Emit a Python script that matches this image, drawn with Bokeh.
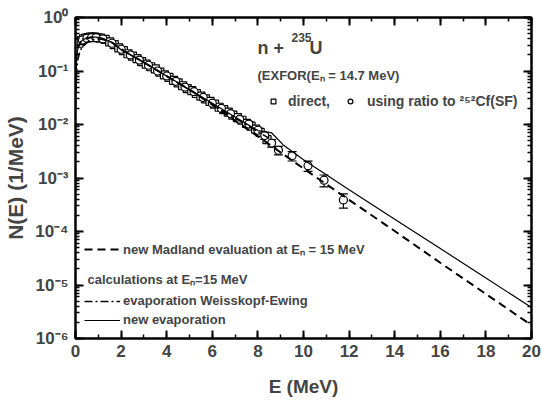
import numpy as np
from bokeh.plotting import figure
from bokeh.models import (ColumnDataSource, LinearAxis, LogAxis, Range1d, Label,
                          Legend, LegendItem, Whisker, FixedTicker, TeeHead, CustomJSTickFormatter)
from bokeh.embed import file_html
from bokeh.resources import INLINE

# ---------------- data ----------------
direct_E = [0.15, 0.25, 0.35, 0.45, 0.55, 0.65, 0.75, 0.85, 0.95, 1.1, 1.3, 1.5, 1.7, 1.9,
            2.1, 2.3, 2.5, 2.7, 2.9, 3.1, 3.3, 3.5, 3.7, 3.9, 4.1, 4.3, 4.5, 4.7, 4.9,
            5.1, 5.3, 5.5, 5.7, 5.9, 6.1, 6.3, 6.5, 6.7, 6.9, 7.1, 7.3, 7.5, 7.7, 7.9, 8.1, 8.4]
direct_N = [0.33, 0.37, 0.40, 0.41, 0.42, 0.43, 0.43, 0.43, 0.42, 0.41, 0.39, 0.35, 0.31, 0.27,
            0.24, 0.21, 0.19, 0.17, 0.15, 0.135, 0.12, 0.11, 0.095, 0.085, 0.076, 0.067, 0.060, 0.053, 0.047,
            0.043, 0.038, 0.034, 0.030, 0.027, 0.024, 0.021, 0.019, 0.017, 0.015, 0.0135, 0.012, 0.0105,
            0.0093, 0.0082, 0.0071, 0.0052]

ratio_E = [0.3, 0.5, 0.7, 0.9, 1.2, 1.6, 2.0, 2.4, 2.8, 3.2, 3.6, 4.0, 4.4, 4.8, 5.2, 5.6, 6.0,
           6.4, 6.8, 7.2, 7.6, 8.0, 8.3, 8.6, 8.9, 9.5, 10.2, 10.9, 11.75]
ratio_N = [0.38, 0.41, 0.42, 0.42, 0.40, 0.33, 0.255, 0.20, 0.16, 0.128, 0.10, 0.081, 0.064, 0.050,
           0.041, 0.032, 0.025, 0.020, 0.016, 0.0125, 0.0102, 0.0078, 0.0062, 0.0045, 0.0033, 0.0026,
           0.0017, 0.00091, 0.00039]
ratio_relerr = [0.03, 0.03, 0.03, 0.03, 0.03, 0.03, 0.03, 0.04, 0.04, 0.04, 0.05, 0.05, 0.05, 0.06,
                0.06, 0.07, 0.07, 0.08, 0.09, 0.10, 0.12, 0.14, 0.15, 0.16, 0.18, 0.20, 0.22, 0.25, 0.30]

evap_E = [0.005, 0.02, 0.05, 0.1, 0.2, 0.35, 0.5, 0.7, 0.9, 1.2, 1.6, 2.0, 2.5, 3.0, 4.0, 5.0, 6.0,
          7.0, 8.0, 8.6, 9.1, 10, 12, 14, 16, 18, 20]
evap_N = [0.04, 0.10, 0.18, 0.26, 0.34, 0.39, 0.415, 0.43, 0.43, 0.40, 0.34, 0.25, 0.19, 0.145, 0.081,
          0.045, 0.025, 0.0138, 0.0077, 0.0070, 0.0042, 0.0022, 6.0e-4, 1.7e-4, 4.8e-5, 1.35e-5, 3.8e-6]

madland_E = [0.005, 0.02, 0.05, 0.1, 0.2, 0.35, 0.5, 0.7, 0.9, 1.2, 1.6, 2.0, 2.5, 3.0, 4.0, 5.0, 6.0,
             7.0, 8.0, 9.0, 10, 12, 14, 16, 18, 20]
madland_N = [0.05, 0.12, 0.20, 0.27, 0.34, 0.385, 0.41, 0.425, 0.425, 0.40, 0.34, 0.255, 0.19, 0.145,
             0.080, 0.045, 0.0235, 0.0118, 0.0060, 0.0030, 0.0015, 3.9e-4, 1.02e-4, 2.6e-5, 6.8e-6, 1.77e-6]

we_E = [0.005, 0.05, 0.1, 0.2, 0.3, 0.5, 0.7, 1.0, 1.3, 1.6, 2.0, 2.5, 3.0, 4.0, 5.0, 6.0, 7.0, 8.0, 8.5]
we_N = [0.02, 0.10, 0.16, 0.24, 0.28, 0.34, 0.38, 0.40, 0.38, 0.34, 0.26, 0.19, 0.145, 0.080, 0.044,
        0.024, 0.0132, 0.0073, 0.0055]

x_ticks = [0, 2, 4, 6, 8, 10, 12, 14, 16, 18, 20]
y_exponents = [0, -1, -2, -3, -4, -5, -6]

SANS = "Liberation Sans, Arial, sans-serif"

# ---------------- figure ----------------
p = figure(width=542, height=401, x_range=Range1d(0, 20), y_range=Range1d(1e-6, 1),
           y_axis_type="log", output_backend="svg", toolbar_location=None,
           min_border_left=75, min_border_right=11, min_border_top=17, min_border_bottom=63)
p.xgrid.visible = False
p.ygrid.visible = False
p.outline_line_color = "black"
p.outline_line_width = 2
p.background_fill_color = "white"
p.border_fill_color = "white"

xt = FixedTicker(ticks=x_ticks, minor_ticks=list(range(0, 21)))
yt = FixedTicker(ticks=[10.0 ** e for e in y_exponents],
                 minor_ticks=[m * 10.0 ** e for e in range(-6, 0) for m in range(1, 10)])
blank = CustomJSTickFormatter(code="return ''")
pow10 = CustomJSTickFormatter(code="""
const e = Math.round(Math.log10(tick));
const sup = {'-': '\u207b', '0': '\u2070', '1': '\u00b9', '2': '\u00b2', '3': '\u00b3',
             '4': '\u2074', '5': '\u2075', '6': '\u2076', '7': '\u2077', '8': '\u2078', '9': '\u2079'};
return '10' + String(e).split('').map(c => sup[c]).join('');
""")


def style_axis(ax, ticker):
    ax.ticker = ticker
    ax.axis_line_width = 2
    ax.major_tick_in = 8
    ax.major_tick_out = 0
    ax.minor_tick_in = 4
    ax.minor_tick_out = 0
    ax.major_tick_line_width = 2
    ax.minor_tick_line_width = 1.5


xa = p.xaxis[0]
style_axis(xa, xt)
xa.major_label_text_font = SANS
xa.major_label_text_font_size = "17px"
xa.major_label_text_font_style = "bold"
xa.major_label_standoff = 6
xa.axis_label = "E (MeV)"
xa.axis_label_text_font = SANS
xa.axis_label_text_font_size = "19px"
xa.axis_label_text_font_style = "bold"
xa.axis_label_standoff = 16

ya = p.yaxis[0]
style_axis(ya, yt)
ya.formatter = pow10
ya.major_label_text_font = SANS
ya.major_label_text_font_size = "17px"
ya.major_label_text_font_style = "bold"
ya.major_label_standoff = 7
ya.axis_label = "N(E) (1/MeV)"
ya.axis_label_text_font = SANS
ya.axis_label_text_font_size = "21px"
ya.axis_label_text_font_style = "bold"
ya.axis_label_standoff = 5

top = LinearAxis(formatter=blank, major_label_standoff=0)
style_axis(top, xt)
p.add_layout(top, "above")
right = LogAxis(formatter=blank, major_label_standoff=0)
style_axis(right, yt)
p.add_layout(right, "right")

# ---------------- data marks ----------------
src_d = ColumnDataSource(dict(x=direct_E, y=direct_N))
r_dir = p.scatter("x", "y", source=src_d, marker="square", size=8, fill_color="white",
                  line_color="black", line_width=1.2)

ratio_lo = [n * (1 - r) for n, r in zip(ratio_N, ratio_relerr)]
ratio_hi = [n * (1 + r) for n, r in zip(ratio_N, ratio_relerr)]
src_r = ColumnDataSource(dict(x=ratio_E, y=ratio_N, lo=ratio_lo, hi=ratio_hi))
p.add_layout(Whisker(source=src_r, base="x", upper="hi", lower="lo", dimension="height",
                     line_color="black", line_width=1.2,
                     upper_head=TeeHead(size=9, line_width=1.2), lower_head=TeeHead(size=9, line_width=1.2)))
r_rat = p.scatter("x", "y", source=src_r, marker="circle", size=8, fill_color="white",
                  line_color="black", line_width=1.2)

r_mad = p.line(madland_E, madland_N, line_color="black", line_width=2, line_dash="8 5")
r_we = p.line(we_E, we_N, line_color="black", line_width=1.5, line_dash="8 3 2 3")
r_ev = p.line(evap_E, evap_N, line_color="black", line_width=1.2)


# ---------------- texts and legends ----------------
def sx(px):
    return (px - 75) / 22.8


def sy(py):
    return 10 ** (-(py - 17) / 53.5)


def txt(px, py, s, size, align="left"):
    p.add_layout(Label(x=sx(px), y=sy(py), text=s, text_align=align, text_baseline="middle",
                       text_font=SANS, text_font_size=size, text_font_style="bold"))


# title block
txt(257, 47, "n +", "18px")
txt(291, 37, "235", "12px")
txt(309, 47, "U", "18px")
txt(257, 75, "(EXFOR(E\u2099 = 14.7 MeV)", "13px")

# calculations text
txt(87, 279, "calculations at E\u2099=15 MeV", "13px")


def mk_legend(items, loc, gw, standoff, size="13px"):
    lg = Legend(items=items, location=loc, orientation="vertical", border_line_alpha=0,
                background_fill_alpha=0, padding=0, margin=0, spacing=4,
                glyph_width=gw, glyph_height=14, label_height=14, label_standoff=standoff,
                label_text_font=SANS, label_text_font_size=size, label_text_font_style="bold",
                label_text_baseline="middle")
    p.add_layout(lg)
    return lg


mk_legend([LegendItem(label="direct,", renderers=[r_dir])], (192, 229), 12, 9, "14px")
mk_legend([LegendItem(label="using ratio to \u00b2\u2075\u00b2Cf(SF)", renderers=[r_rat])],
          (269, 229), 12, 11, "14px")
mk_legend([LegendItem(label="new Madland evaluation at E\u2099 = 15 MeV", renderers=[r_mad])], (9, 80), 36, 3)
mk_legend([LegendItem(label="evaporation Weisskopf-Ewing", renderers=[r_we]),
           LegendItem(label="new evaporation", renderers=[r_ev])], (9, 11), 36, 3)

open("out.html", "w").write(file_html(p, INLINE))
